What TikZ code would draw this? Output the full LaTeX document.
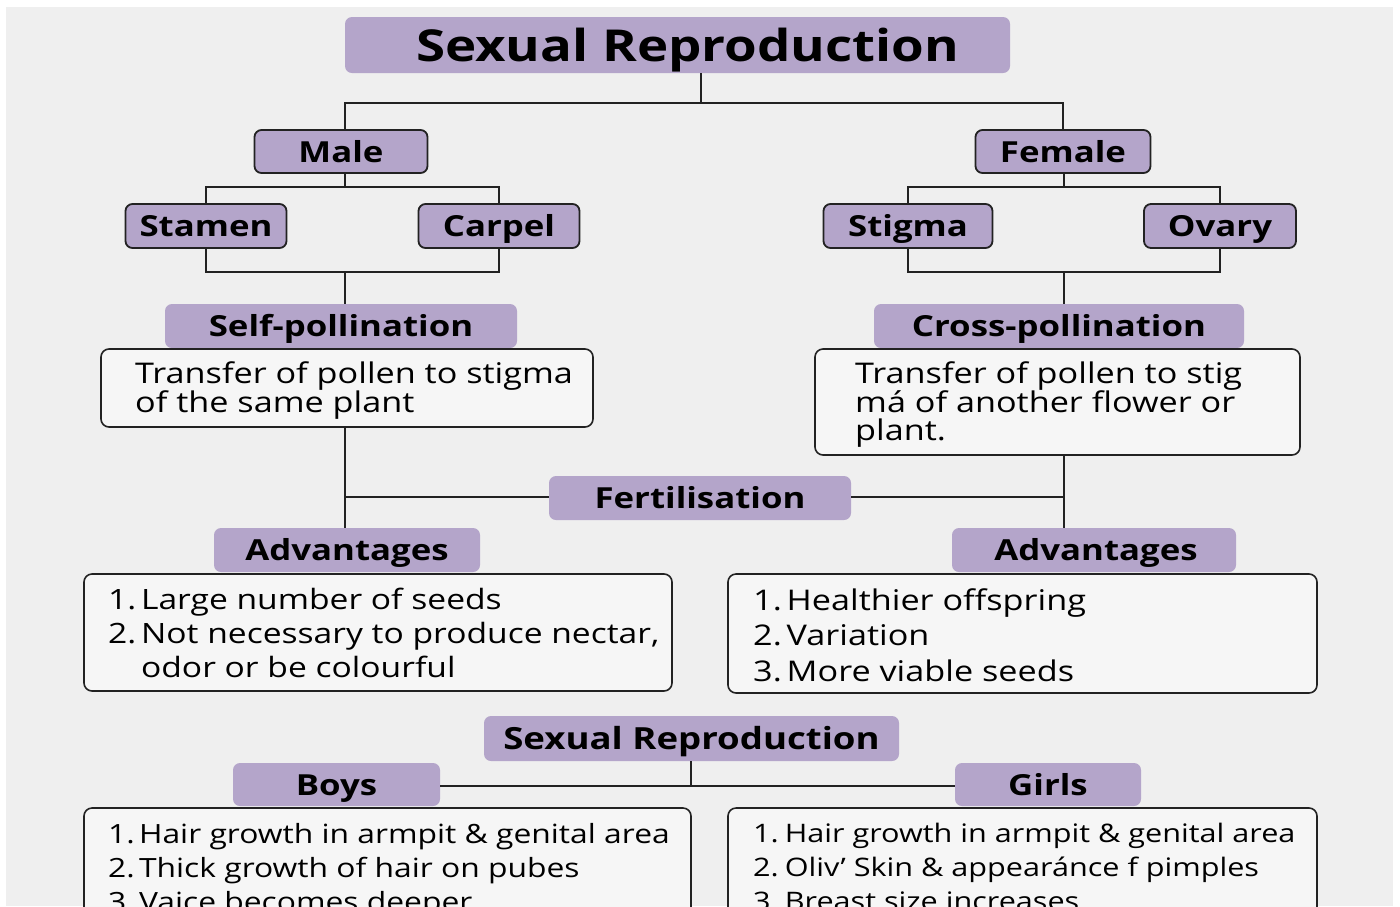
\documentclass[tikz,border=0pt]{standalone}
\usepackage{fontspec}
\setmainfont{Open Sans}[FakeStretch=1.2]
\definecolor{bg}{HTML}{EFEFEF}
\definecolor{hdrc}{HTML}{B4A5CA}
\definecolor{lnc}{HTML}{222222}
\definecolor{boxc}{HTML}{F6F6F6}
\newcommand\itemnum[1]{#1\kern-4pt\ }
\tikzset{
  hdr/.style={fill=hdrc, rounded corners=7pt, inner sep=0pt, text=black,
    font=\bfseries\fontsize{29}{29}\selectfont, text height=26pt, text depth=4.5pt},
  bhdr/.style={hdr, draw=lnc, line width=1.8pt},
  descbox/.style={draw=lnc, line width=1.6pt, fill=boxc, rounded corners=8pt,
    inner sep=0pt},
  txt/.style={anchor=north west, inner sep=0pt, align=left, text=black},
  conn/.style={draw=lnc, line width=1.8pt},
}
\begin{document}
\begin{tikzpicture}[x=1pt,y=-1pt]
\useasboundingbox (0,0) rectangle (1400,906);
\clip (0,0) rectangle (1400,906);
\fill[white] (0,0) rectangle (1400,906);
\fill[bg] (6,7) rectangle (1393,906);

% top tree
\node[hdr, minimum width=665pt, minimum height=56pt, font=\bfseries\fontsize{44}{44}\selectfont,
  text height=38pt, text depth=5pt] (title) at (677.5,45) {\hspace*{20pt}Sexual Reproduction};
\node[bhdr, minimum width=173pt, minimum height=43pt] (male) at (341,151.5) {Male};
\node[bhdr, minimum width=175pt, minimum height=43pt] (female) at (1063,151.5) {Female};
\node[bhdr, minimum width=161pt, minimum height=44pt] (stamen) at (206,226) {Stamen};
\node[bhdr, minimum width=161pt, minimum height=44pt] (carpel) at (499,226) {Carpel};
\node[bhdr, minimum width=169pt, minimum height=44pt] (stigma) at (908,226) {Stigma};
\node[bhdr, minimum width=152pt, minimum height=44pt] (ovary) at (1220,226) {Ovary};

\coordinate (j1) at (701,103);
\coordinate (m1) at (345,103);
\coordinate (m2) at (345,187);
\coordinate (m3) at (345,272);
\coordinate (f2) at (1064,187);
\coordinate (f3) at (1064,272);
\coordinate (fl) at (345,497);
\coordinate (fr) at (1064,497);
\coordinate (s2) at (691,786);

\node[hdr, minimum width=352pt, minimum height=44pt] (selfh) at (341,326) {Self-pollination};
\node[hdr, minimum width=370pt, minimum height=44pt] (crossh) at (1059,326) {Cross-pollination};

\node[descbox, minimum width=492pt, minimum height=78pt] (selfd) at (347,388) {};
\node[txt, font=\fontsize{28.5}{27}\selectfont] (selft) at (135,361)
  {Transfer of pollen to stigma\\of the same plant};

\node[descbox, minimum width=485pt, minimum height=106pt] (crossd) at (1057.5,402) {};
\node[txt, font=\fontsize{28.5}{27.5}\selectfont] (crosst) at (855,361)
  {Transfer of pollen to stig\\má of another flower or\\plant.};

\node[hdr, minimum width=302pt, minimum height=44pt] (fert) at (700,498) {Fertilisation};
\node[hdr, minimum width=266pt, minimum height=44pt] (advl) at (347,550) {Advantages};
\node[hdr, minimum width=284pt, minimum height=44pt] (advr) at (1094,550) {\hspace*{4pt}Advantages};

\node[descbox, minimum width=588pt, minimum height=117pt] (listl) at (378,632.5) {};
\node[txt, font=\fontsize{28}{34}\selectfont] (listlt) at (108,588)
  {\itemnum{1.}Large number of seeds\\\itemnum{2.}Not necessary to produce nectar,\\\phantom{\itemnum{2.}}odor or be colourful};

\node[descbox, minimum width=589pt, minimum height=119pt] (listr) at (1022.5,633.5) {};
\node[txt, font=\fontsize{28.5}{35.5}\selectfont] (listrt) at (753,588)
  {\itemnum{1.}Healthier offspring\\\itemnum{2.}Variation\\\itemnum{3.}More viable seeds};

% bottom section
\node[hdr, minimum width=415pt, minimum height=45pt, font=\bfseries\fontsize{30.5}{30.5}\selectfont,
  text height=27pt, text depth=5pt] (sr2) at (691.5,738.5) {Sexual Reproduction};
\node[hdr, minimum width=207pt, minimum height=43pt] (boys) at (336.5,784.5) {Boys};
\node[hdr, minimum width=186pt, minimum height=43pt] (girls) at (1048,784.5) {Girls};

\node[descbox, minimum width=607pt, minimum height=150pt] (boysl) at (387.5,883) {};
\node[txt, font=\fontsize{26.5}{34}\selectfont] (boyst) at (108,823)
  {\itemnum{1.}Hair growth in armpit \& genital area\\\itemnum{2.}Thick growth of hair on pubes\\\itemnum{3.}Vaice becomes deeper};

\node[descbox, minimum width=589pt, minimum height=150pt] (girlsl) at (1022.5,883) {};
\node[txt, font=\fontsize{25.5}{34}\selectfont] (girlst) at (753,823)
  {1.\kern-2pt\ Hair growth in armpit \& genital area\\2.\kern-2pt\ Oliv' Skin \& appearánce f pimples\\3.\kern-2pt\ Breast size increases};

% connectors
\draw[conn] (title.south -| j1) -- (j1);
\draw[conn] (male.north -| m1) -- (m1) -- (j1) -| (female.north);
\draw[conn] (male.south -| m2) -- (m2);
\draw[conn] (stamen.north) |- (m2) -| (carpel.north);
\draw[conn] (stamen.south) |- (m3) -| (carpel.south);
\draw[conn] (m3) -- (selfh.north -| m3);
\draw[conn] (female.south -| f2) -- (f2);
\draw[conn] (stigma.north) |- (f2) -| (ovary.north);
\draw[conn] (stigma.south) |- (f3) -| (ovary.south);
\draw[conn] (f3) -- (crossh.north -| f3);
\draw[conn] (selfd.south -| fl) -- (advl.north -| fl);
\draw[conn] (crossd.south -| fr) -- (advr.north -| fr);
\draw[conn] (fert.west |- fl) -- (fl);
\draw[conn] (fert.east |- fr) -- (fr);
\draw[conn] (sr2.south -| s2) -- (s2);
\draw[conn] (boys.east |- s2) -- (girls.west |- s2);
\end{tikzpicture}
\end{document}
